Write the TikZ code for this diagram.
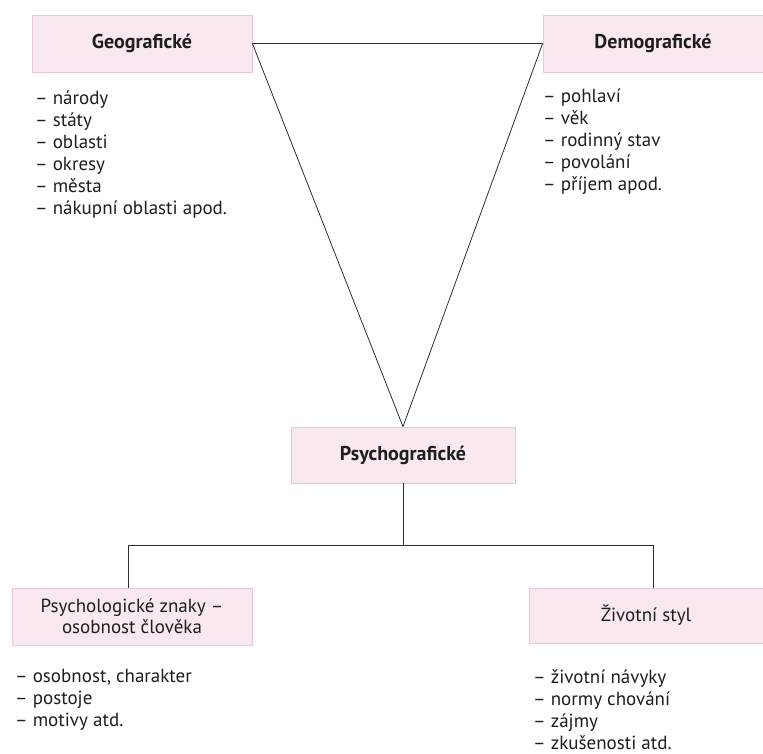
\documentclass[tikz,border=0pt]{standalone}
\usepackage{fontspec}
\setmainfont{PT Sans}
\usetikzlibrary{positioning, calc}

\definecolor{boxpink}{RGB}{249, 232, 241}
\definecolor{boxedge}{RGB}{232, 200, 218}
\definecolor{linegray}{RGB}{45, 45, 45}
\definecolor{textgray}{RGB}{30, 30, 30}

\tikzset{
  segbox/.style={draw=boxedge, fill=boxpink, line width=0.8pt, minimum height=57pt, inner sep=0pt, align=center, text=textgray},
  headbox/.style={segbox, font=\fontsize{20}{22}\selectfont\bfseries},
  subbox/.style={segbox, font=\fontsize{19}{20.5}\selectfont},
  itemlist/.style={anchor=north west, align=left, inner sep=0pt, text=textgray, font=\fontsize{19}{22}\selectfont},
  link/.style={draw=linegray, line width=0.8pt}
}

\begin{document}
\begin{tikzpicture}[x=1pt, y=-1pt]
  \useasboundingbox (0,0) rectangle (763,753);

  % three segmentation criteria
  \node[headbox, minimum width=220pt] (geo) at (142, 43.5) {Geografické};
  \node[headbox, minimum width=220pt] (demo) at (653, 43.5) {Demografické};
  \node[headbox, minimum width=224pt, minimum height=56pt] (psycho) at (403, 455) {Psychografické};

  % triangle between them
  \draw[link] (geo.east) -- (demo.west);
  \draw[link] (geo.east) -- (psycho.north);
  \draw[link] (demo.west) -- (psycho.north);

  % psychographic split
  \node[subbox, minimum width=240pt] (znaky) at (132, 616.5) {Psychologické znaky --\\osobnost člověka};
  \node[subbox, minimum width=234pt, minimum height=55pt] (styl) at (646, 615.5) {Životní styl};
  \coordinate (split) at ($(psycho.south)+(0,62)$);
  \draw[link] (psycho.south) -- (split);
  \draw[link] (split) -| ([xshift=-4pt]znaky.north);
  \draw[link] (split) -| ([xshift=7pt]styl.north);

  % item lists
  \node[itemlist] (geolist) at (35, 91) {-- národy\\-- státy\\-- oblasti\\-- okresy\\-- města\\-- nákupní oblasti apod.};
  \node[itemlist] (demolist) at (543, 89) {-- pohlaví\\-- věk\\-- rodinný stav\\-- povolání\\-- příjem apod.};
  \node[itemlist] (znakylist) at (15, 669) {-- osobnost, charakter\\-- postoje\\-- motivy atd.};
  \node[itemlist] (stylist) at (533, 669) {-- životní návyky\\-- normy chování\\-- zájmy\\-- zkušenosti atd.};
\end{tikzpicture}
\end{document}
